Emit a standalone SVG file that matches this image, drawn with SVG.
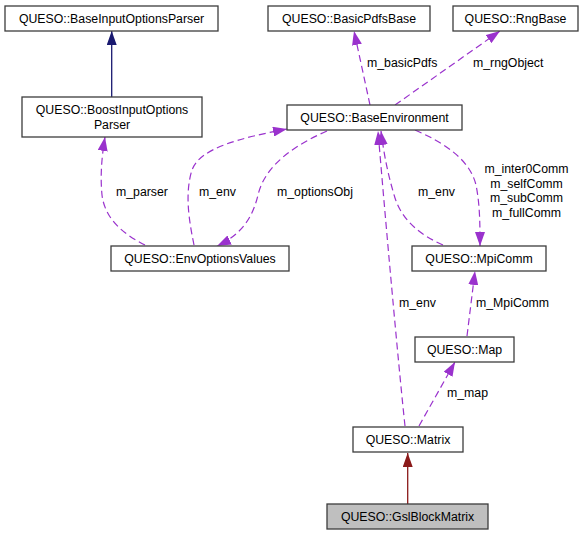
<svg xmlns="http://www.w3.org/2000/svg" width="587" height="536" viewBox="0 0 587 536">
<style>
.node rect{fill:#fff;stroke:#3c3c3c;stroke-width:1.3}
.node text,.lbl{font-family:"Liberation Sans",Arial,Helvetica,sans-serif;font-size:12.3px;fill:#000}
.node text{text-anchor:middle}
.use{fill:none;stroke:#9a32cd;stroke-width:1.2;stroke-dasharray:7,4}
.inh-b{fill:none;stroke:#191970;stroke-width:1.3}
.inh-r{fill:none;stroke:#8b1a1a;stroke-width:1.3}
</style>
<defs>
<marker id="ap" viewBox="0 0 14 10" refX="14" refY="5" markerWidth="14" markerHeight="10" markerUnits="userSpaceOnUse" orient="auto"><path d="M0,0 L14,5 L0,10 z" fill="#9a32cd"/></marker>
<marker id="ab" viewBox="0 0 14 10" refX="14" refY="5" markerWidth="14" markerHeight="10" markerUnits="userSpaceOnUse" orient="auto"><path d="M0,0 L14,5 L0,10 z" fill="#191970"/></marker>
<marker id="ar" viewBox="0 0 14 10" refX="14" refY="5" markerWidth="14" markerHeight="10" markerUnits="userSpaceOnUse" orient="auto"><path d="M0,0 L14,5 L0,10 z" fill="#8b1a1a"/></marker>
</defs>
<rect width="587" height="536" fill="#fff"/>
<g id="edges">
<path class="inh-b" d="M111.7,97 L111.7,31" marker-end="url(#ab)"/>
<path class="inh-r" d="M407.7,504 L407.7,453" marker-end="url(#ar)"/>
<path class="use" d="M145,245 C125,235 105,220 102,195 C100,175 102,155 105,137" marker-end="url(#ap)"/>
<path class="use" d="M194,245 C190,225 184,195 192,170 C200,148 240,138 287,129" marker-end="url(#ap)"/>
<path class="use" d="M327,131 C295,145 265,165 258,195 C252,220 240,235 217,246" marker-end="url(#ap)"/>
<path class="use" d="M370,105 L354,31" marker-end="url(#ap)"/>
<path class="use" d="M395,105 L500,31" marker-end="url(#ap)"/>
<path class="use" d="M415,130 C445,143 470,160 476,185 C480,205 480,225 480,246" marker-end="url(#ap)"/>
<path class="use" d="M443,245 C420,235 402,220 395,198 C388,175 384,155 381,131" marker-end="url(#ap)"/>
<path class="use" d="M405,426 C400,380 388,250 378,131" marker-end="url(#ap)"/>
<path class="use" d="M467,336 L475,271" marker-end="url(#ap)"/>
<path class="use" d="M419,426 L455,362" marker-end="url(#ap)"/>
<text class="lbl" x="116" y="196">m_parser</text>
<text class="lbl" x="199" y="196">m_env</text>
<text class="lbl" x="277" y="196">m_optionsObj</text>
<text class="lbl" x="367" y="67">m_basicPdfs</text>
<text class="lbl" x="473" y="67">m_rngObject</text>
<text class="lbl" x="418" y="196">m_env</text>
<text class="lbl" text-anchor="middle" x="526.5" y="173">m_inter0Comm</text>
<text class="lbl" text-anchor="middle" x="526.5" y="187.7">m_selfComm</text>
<text class="lbl" text-anchor="middle" x="526.5" y="202.4">m_subComm</text>
<text class="lbl" text-anchor="middle" x="526.5" y="216.5">m_fullComm</text>
<text class="lbl" x="399" y="307">m_env</text>
<text class="lbl" x="476" y="307">m_MpiComm</text>
<text class="lbl" x="447" y="397">m_map</text>
</g>
<g id="BaseInputOptionsParser" class="node"><rect x="5" y="6" width="213" height="25"/><text x="111.5" y="22.8">QUESO::BaseInputOptionsParser</text></g>
<g id="BasicPdfsBase" class="node"><rect x="268" y="6" width="162" height="25"/><text x="349" y="22.8">QUESO::BasicPdfsBase</text></g>
<g id="RngBase" class="node"><rect x="453" y="6" width="125" height="25"/><text x="515.5" y="22.8">QUESO::RngBase</text></g>
<g id="BoostInputOptionsParser" class="node"><rect x="22" y="97" width="180" height="40"/><text x="112" y="113.5">QUESO::BoostInputOptions</text><text x="112" y="128.5">Parser</text></g>
<g id="BaseEnvironment" class="node"><rect x="287" y="105" width="175" height="25"/><text x="374.5" y="122">QUESO::BaseEnvironment</text></g>
<g id="EnvOptionsValues" class="node"><rect x="111" y="246" width="178" height="25"/><text x="200" y="263">QUESO::EnvOptionsValues</text></g>
<g id="MpiComm" class="node"><rect x="412" y="246" width="134" height="25"/><text x="479" y="263">QUESO::MpiComm</text></g>
<g id="Map" class="node"><rect x="415" y="337" width="99" height="25"/><text x="464.5" y="354">QUESO::Map</text></g>
<g id="Matrix" class="node"><rect x="353" y="427" width="110" height="25"/><text x="408" y="444">QUESO::Matrix</text></g>
<g id="GslBlockMatrix" class="node"><rect x="327" y="504" width="161" height="25" style="fill:#bfbfbf"/><text x="407.5" y="521">QUESO::GslBlockMatrix</text></g>
</svg>
